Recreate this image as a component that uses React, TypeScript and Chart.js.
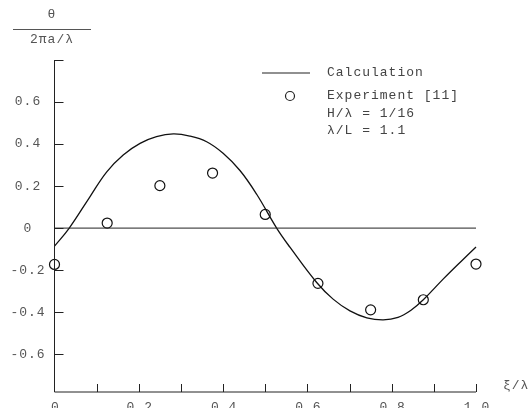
import React, { useEffect, useRef } from 'react';
import { Chart, registerables } from 'chart.js';

Chart.register(...registerables);

// Calculated curve (xi/lambda, theta normalised)
const calcX = [0, 0.035, 0.084, 0.124, 0.163, 0.203, 0.242, 0.282, 0.321, 0.361, 0.4, 0.44, 0.48, 0.527, 0.559, 0.622, 0.661, 0.701, 0.741, 0.78, 0.815, 0.845, 0.875, 0.922, 0.97, 1.0];
const calcY = [-0.086, 0, 0.149, 0.268, 0.348, 0.403, 0.435, 0.448, 0.438, 0.411, 0.356, 0.274, 0.16, 0, -0.092, -0.259, -0.338, -0.394, -0.427, -0.437, -0.425, -0.392, -0.341, -0.243, -0.148, -0.09];

// Experiment [11]
const expX = [0, 0.125, 0.25, 0.375, 0.5, 0.625, 0.75, 0.875, 1.0];
const expY = [-0.173, 0.024, 0.202, 0.262, 0.065, -0.263, -0.389, -0.341, -0.171];

// Reference zero line
const zeroX = [0, 1.0];
const zeroY = [0, 0];

// Axes
const xMin = 0;
const xMax = 1.0;
const yMin = -0.78;
const yMax = 0.8;
const xTickValues = [0.1, 0.2, 0.3, 0.4, 0.5, 0.6, 0.7, 0.8, 0.9, 1.0];
const xLabelValues = [0, 0.2, 0.4, 0.6, 0.8, 1.0];
const xLabelTexts = ['0', '0.2', '0.4', '0.6', '0.8', '1.0'];
const yTickValues = [0.8, 0.6, 0.4, 0.2, 0, -0.2, -0.4, -0.6];
const yLabelValues = [0.6, 0.4, 0.2, 0, -0.2, -0.4, -0.6];
const yLabelTexts = ['0.6', '0.4', '0.2', '0', '-0.2', '-0.4', '-0.6'];

const legendTexts = ['Calculation', 'Experiment [11]', 'H/λ = 1/16', 'λ/L = 1.1'];
const xTitle = 'ξ/λ';
const yTitleTop = 'θ';
const yTitleBottom = '2πa/λ';

const FONT = '"Liberation Mono", "DejaVu Sans Mono", monospace';

const decorPlugin = {
  id: 'decor',
  afterDraw(chart: any) {
    const { ctx } = chart;
    const xs = chart.scales.x;
    const ys = chart.scales.y;
    const x0 = xs.getPixelForValue(xMin);
    const x1 = xs.getPixelForValue(xMax);
    const yTop = ys.getPixelForValue(yMax);
    const yBot = ys.getPixelForValue(yMin);
    ctx.save();
    ctx.strokeStyle = '#222';
    ctx.lineWidth = 1;
    // axes
    ctx.beginPath();
    ctx.moveTo(x0, yTop);
    ctx.lineTo(x0, yBot);
    ctx.lineTo(x1, yBot);
    ctx.stroke();
    // y ticks (inward)
    yTickValues.forEach((v) => {
      const py = Math.round(ys.getPixelForValue(v)) + 0.5;
      ctx.beginPath();
      ctx.moveTo(x0, py);
      ctx.lineTo(x0 + 9, py);
      ctx.stroke();
    });
    // x ticks (inward)
    xTickValues.forEach((v) => {
      const px = Math.round(xs.getPixelForValue(v)) + 0.5;
      ctx.beginPath();
      ctx.moveTo(px, yBot);
      ctx.lineTo(px, yBot - 8);
      ctx.stroke();
    });
    // labels
    ctx.fillStyle = '#555';
    ctx.font = `13px ${FONT}`;
    (ctx as any).letterSpacing = '1px';
    ctx.textAlign = 'center';
    ctx.textBaseline = 'middle';
    yLabelValues.forEach((v, i) => {
      ctx.fillText(yLabelTexts[i], 28, ys.getPixelForValue(v));
    });
    ctx.textBaseline = 'top';
    xLabelValues.forEach((v, i) => {
      ctx.fillText(xLabelTexts[i], xs.getPixelForValue(v) + 1, yBot + 9);
    });
    // axis titles
    ctx.textAlign = 'left';
    ctx.textBaseline = 'middle';
    ctx.fillText(xTitle, 503, yBot - 6);
    ctx.textAlign = 'center';
    ctx.fillText(yTitleTop, 52, 15);
    ctx.fillText(yTitleBottom, 52, 40);
    ctx.beginPath();
    ctx.strokeStyle = '#555';
    ctx.moveTo(13, 29.5);
    ctx.lineTo(91, 29.5);
    ctx.stroke();
    // legend
    ctx.strokeStyle = '#222';
    ctx.lineWidth = 1.2;
    ctx.beginPath();
    ctx.moveTo(262, 73);
    ctx.lineTo(310, 73);
    ctx.stroke();
    ctx.beginPath();
    ctx.arc(290, 96, 4.5, 0, Math.PI * 2);
    ctx.stroke();
    ctx.fillStyle = '#444';
    ctx.textAlign = 'left';
    const rows = [73, 96, 114, 131];
    legendTexts.forEach((t, i) => ctx.fillText(t, 327, rows[i]));
    (ctx as any).letterSpacing = '0px';
    ctx.restore();
  },
};

export default function App() {
  const ref = useRef<HTMLCanvasElement>(null);
  useEffect(() => {
    if (!ref.current) return;
    const chart = new Chart(ref.current, {
      type: 'scatter',
      data: {
        datasets: [
          {
            label: 'zero',
            data: zeroX.map((x, i) => ({ x, y: zeroY[i] })),
            showLine: true,
            borderColor: '#222',
            borderWidth: 1,
            pointRadius: 0,
            clip: false,
          },
          {
            label: 'Calculation',
            data: calcX.map((x, i) => ({ x, y: calcY[i] })),
            showLine: true,
            borderColor: '#111',
            borderWidth: 1.3,
            pointRadius: 0,
            tension: 0.4,
            clip: false,
          },
          {
            label: 'Experiment [11]',
            data: expX.map((x, i) => ({ x, y: expY[i] })),
            showLine: false,
            pointRadius: 5,
            pointBorderWidth: 1.2,
            pointBorderColor: '#111',
            pointBackgroundColor: '#fff',
            clip: false,
          },
        ],
      } as any,
      options: {
        animation: false,
        responsive: false,
        maintainAspectRatio: false,
        layout: { padding: { left: 54.5, right: 56, top: 60, bottom: 16 } },
        plugins: { legend: { display: false }, tooltip: { enabled: false } },
        scales: {
          x: { type: 'linear', min: xMin, max: xMax, display: false },
          y: { type: 'linear', min: yMin, max: yMax, display: false },
        },
      },
      plugins: [decorPlugin],
    });
    return () => chart.destroy();
  }, []);
  return (
    <div style={{ position: 'absolute', left: 0, top: 0, width: 532, height: 408, background: '#fff' }}>
      <canvas ref={ref} width={532} height={408} style={{ display: 'block', width: 532, height: 408 }} />
    </div>
  );
}
